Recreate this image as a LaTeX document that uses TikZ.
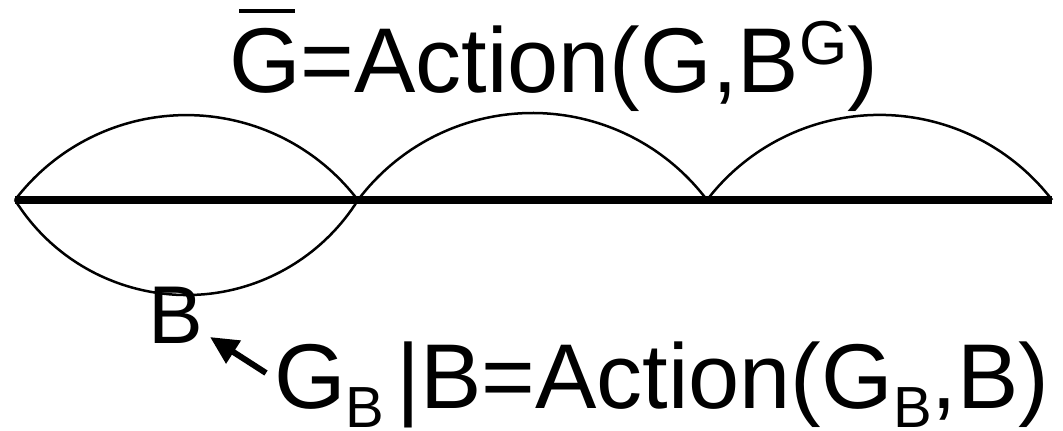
\documentclass[tikz,border=0pt]{standalone}
\usepackage{fontspec}
\setmainfont{Liberation Sans}
\usetikzlibrary{arrows.meta}
\newcommand\bigtxt{\fontsize{92}{92}\selectfont}
\newcommand\mysup[1]{\raisebox{28pt}{\fontsize{62}{62}\selectfont #1}}
\newcommand\mysub[1]{\raisebox{-19pt}{\fontsize{58}{58}\selectfont #1}}
\newcommand\gbar{\makebox[0pt][l]{\hspace{10pt}\rule[79pt]{56pt}{4pt}}G}
\tikzset{
  lbl/.style={inner sep=0pt, outer sep=0pt, anchor=base west, font=\bigtxt},
  arcline/.style={line width=2.5pt},
  baseline/.style={line width=7.5pt},
  pointer/.style={line width=6pt, -{Triangle[length=28pt,width=26pt]}},
}
\begin{document}
\begin{tikzpicture}[x=1pt,y=1pt]
\useasboundingbox (0,0) rectangle (1063,-431);
\coordinate (p0) at (15,-200);
\coordinate (p1) at (358,-200);
\coordinate (p2) at (707,-200);
\coordinate (p3) at (1052,-200);
% arcs
\draw[arcline] (p0) arc[start angle=142.7, end angle=37.3, radius=215.5];
\draw[arcline] (p1) arc[start angle=143.0, end angle=37.0, radius=218.5];
\draw[arcline] (p2) arc[start angle=142.5, end angle=37.5, radius=217.5];
\draw[arcline] (p0) arc[start angle=212.03, end angle=327.97, radius=202.3];
% thick line
\draw[baseline] (p0) -- (p3);
% texts
\node[lbl] (top) at (229,-92) {\gbar=Action(G,B\mysup{G})};
\node[lbl, font=\fontsize{82}{82}\selectfont] (b) at (148,-343) {B};
\node[lbl] (bot) at (274,-408) {G\mysub{B}\hspace{12pt}|B=Action(G\mysub{B},B)};
% arrow
\coordinate (atail) at (266,-373);
\coordinate (ahead) at (210,-337);
\draw[pointer] (atail) -- (ahead);
\end{tikzpicture}
\end{document}
